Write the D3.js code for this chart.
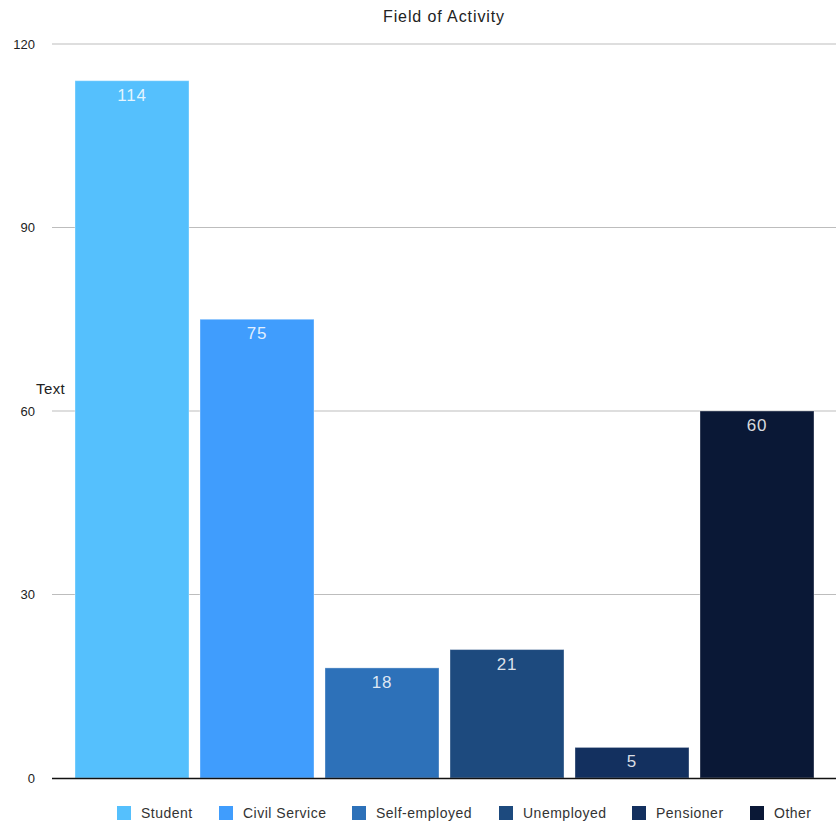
<!DOCTYPE html>
<html>
<head>
<meta charset="utf-8">
<script src="https://cdn.jsdelivr.net/npm/d3@7"></script>
<style>
  html, body { margin: 0; padding: 0; background: #fff; }
  svg { display: block; font-family: "Liberation Sans", Arial, Helvetica, sans-serif; }
</style>
</head>
<body>
<svg id="chart" width="838" height="825"></svg>
<script>
// Field of activity counts
const categories = ["Student", "Civil Service", "Self-employed", "Unemployed", "Pensioner", "Other"];
const values = [114, 75, 18, 21, 5, 60];
const colors = ["#55c0fd", "#409dfd", "#2d71b9", "#1d4a7e", "#13305f", "#0a1836"];
const yTicks = [0, 30, 60, 90, 120];

const svg = d3.select("#chart");

const x = d3.scaleBand().domain(categories).range([69.5, 819.5]).paddingInner(0.088).paddingOuter(0.044);
const y = d3.scaleLinear().domain([0, 120]).range([778, 44]);

// Title
svg.append("text")
  .attr("x", 444).attr("y", 22)
  .attr("text-anchor", "middle")
  .attr("font-size", 16).attr("letter-spacing", 0.9).attr("fill", "#222")
  .text("Field of Activity");

// Gridlines
svg.append("g").selectAll("line")
  .data(yTicks.filter(d => d > 0))
  .join("line")
  .attr("x1", 52).attr("x2", 836)
  .attr("y1", d => y(d)).attr("y2", d => y(d))
  .attr("stroke", "#bdbdbd").attr("stroke-width", 1.2);

// Y axis tick labels
const yAxis = d3.axisLeft(y).tickValues(yTicks).tickSize(0).tickPadding(0);
const yg = svg.append("g").attr("transform", "translate(35,0)").call(yAxis);
yg.select(".domain").remove();
yg.selectAll("text").attr("font-size", 13).attr("fill", "#222")
  .attr("font-family", "\"Liberation Sans\", Arial, sans-serif");

// Axis title
svg.append("text")
  .attr("x", 36).attr("y", 394)
  .attr("font-size", 15).attr("letter-spacing", 0.4).attr("fill", "#222")
  .text("Text");

// Bars
svg.append("g").selectAll("rect")
  .data(categories)
  .join("rect")
  .attr("x", d => x(d))
  .attr("width", x.bandwidth())
  .attr("y", (d, i) => y(values[i]))
  .attr("height", (d, i) => y(0) - y(values[i]))
  .attr("fill", (d, i) => colors[i])
  .attr("stroke", "rgba(255,255,255,0.35)")
  .attr("stroke-width", 1);

// Value labels
svg.append("g").selectAll("text")
  .data(categories)
  .join("text")
  .attr("x", d => x(d) + x.bandwidth() / 2)
  .attr("y", (d, i) => y(values[i]) + 20)
  .attr("text-anchor", "middle")
  .attr("font-size", 17).attr("letter-spacing", 0.8)
  .attr("fill", "rgba(255,255,255,0.85)")
  .text((d, i) => values[i]);

// Baseline
svg.append("line")
  .attr("x1", 52).attr("x2", 836)
  .attr("y1", y(0) + 0.5).attr("y2", y(0) + 0.5)
  .attr("stroke", "#111").attr("stroke-width", 1.4);

// Legend
const legendX = [117, 219, 352, 499, 632, 750];
const lg = svg.append("g").selectAll("g")
  .data(categories)
  .join("g")
  .attr("transform", (d, i) => `translate(${legendX[i]},806)`);
lg.append("rect")
  .attr("width", 14).attr("height", 14)
  .attr("fill", (d, i) => colors[i]);
lg.append("text")
  .attr("x", 24).attr("y", 12)
  .attr("font-size", 14).attr("letter-spacing", 0.5).attr("fill", "#333")
  .text(d => d);
</script>
</body>
</html>
